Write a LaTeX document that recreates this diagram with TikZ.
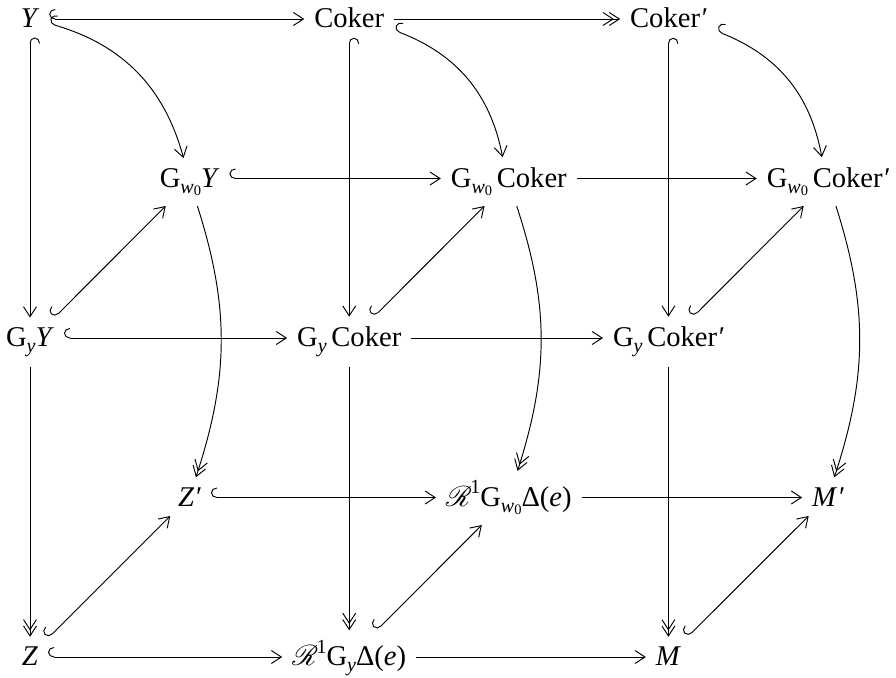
\documentclass[tikz,border=0pt]{standalone}
\usepackage{fontspec}
\setmainfont{LiberationSerif}[Extension=.ttf,UprightFont=*-Regular,ItalicFont=*-Italic,BoldFont=*-Bold,BoldItalicFont=*-BoldItalic]
\usetikzlibrary{arrows.meta,bending}
\DeclareFontFamily{U}{myrsfs}{\skewchar\font127 }
\DeclareFontShape{U}{myrsfs}{m}{n}{<-> rsfs10}{}
\newcommand\scR{{\usefont{U}{myrsfs}{m}{n}R}}
\newcommand\lowsub[2][0.22em]{\raisebox{-#1}{\fontsize{20}{20}\selectfont #2}}
\newcommand\wzero{\lowsub[0.24em]{\textit{w}\raisebox{-0.1em}{\fontsize{14.5}{14.5}\selectfont 0}}}
\newcommand\Gw{G\wzero}
\newcommand\Gy{G\lowsub[0.2em]{\textit{y}}}
\newcommand\Rone{\scR\raisebox{0.42em}{\fontsize{20}{20}\selectfont 1}}
\newcommand\Del{Δ(\textit{e})}
\newcommand\pr{\textit{′}}
\tikzset{
  obj/.style={inner sep=9.5pt, anchor=base, font=\fontsize{28.6}{34}\selectfont},
  hk/.style={arrows={Hooks[right,length=6pt,width=20pt]-Straight Barb[length=10pt,width=13pt]}},
  ar/.style={arrows={-Straight Barb[length=10pt,width=13pt]}},
  dbl/.style={arrows={-Straight Barb[length=10pt,width=13pt,sep=-5pt]Straight Barb[length=10pt,width=13pt]}},
}
\begin{document}
\begin{tikzpicture}[x=1pt,y=1pt,line width=0.95pt]
\useasboundingbox (0,0) rectangle (896,-677);
\node[obj] (Y) at (30,-27.5) {\textit{Y}};
\node[obj] (C) at (349.2,-27.5) {Coker};
\node[obj] (Cp) at (668.4,-27.5) {Coker\pr};
\node[obj] (wY) at (189.6,-187) {\Gw\textit{Y}};
\node[obj] (wC) at (508.8,-187) {\Gw\,Coker};
\node[obj] (wCp) at (828,-187) {\Gw\,Coker\pr};
\node[obj] (yY) at (30,-346.5) {\Gy\textit{Y}};
\node[obj] (yC) at (349.2,-346.5) {\Gy\,Coker};
\node[obj] (yCp) at (668.4,-346.5) {\Gy\,Coker\pr};
\node[obj] (Zp) at (189.6,-506) {\textit{Z}\pr};
\node[obj] (wR) at (508.8,-506) {\Rone\Gw\Del};
\node[obj] (Mp) at (828,-506) {\textit{M}\pr};
\node[obj] (Z) at (30,-665.5) {\textit{Z}};
\node[obj] (yR) at (349.2,-665.5) {\Rone\Gy\Del};
\node[obj] (M) at (668.4,-665.5) {\textit{M}};
% horizontal
\draw[hk] ([yshift=8.5pt]Y.base east) -- ([yshift=8.5pt]C.base west);
\draw[dbl] ([yshift=8.5pt]C.base east) -- ([yshift=8.5pt]Cp.base west);
\draw[hk] ([yshift=8.5pt]wY.base east) -- ([yshift=8.5pt]wC.base west);
\draw[ar] ([yshift=8.5pt]wC.base east) -- ([yshift=8.5pt]wCp.base west);
\draw[hk] ([yshift=8.5pt]yY.base east) -- ([yshift=8.5pt]yC.base west);
\draw[ar] ([yshift=8.5pt]yC.base east) -- ([yshift=8.5pt]yCp.base west);
\draw[hk] ([yshift=8.5pt]Zp.base east) -- ([yshift=8.5pt]wR.base west);
\draw[ar] ([yshift=8.5pt]wR.base east) -- ([yshift=8.5pt]Mp.base west);
\draw[hk] ([yshift=8.5pt]Z.base east) -- ([yshift=8.5pt]yR.base west);
\draw[ar] ([yshift=8.5pt]yR.base east) -- ([yshift=8.5pt]M.base west);
% vertical back
\draw[hk] (Y.south) -- (yY.north);
\draw[dbl] (yY.south) -- (Z.north);
\draw[hk] (C.south) -- (yC.north);
\draw[dbl] (yC.south) -- (yR.north);
\draw[hk] (Cp.south) -- (yCp.north);
\draw[dbl] (yCp.south) -- (M.north);
% curved front
\draw[hk] (Y) to[bend left=30] (wY);
\draw[hk] (C) to[bend left=30] (wC);
\draw[hk] (Cp) to[bend left=30] (wCp);
\draw[dbl] (wY) to[bend left=18] (Zp);
\draw[dbl] (wC) to[bend left=18] (wR);
\draw[dbl] (wCp) to[bend left=18] (Mp);
% diagonals
\draw[hk] (yY) -- (wY);
\draw[hk] (yC) -- (wC);
\draw[hk] (yCp) -- (wCp);
\draw[hk] (Z) -- (Zp);
\draw[hk] (yR) -- (wR);
\draw[hk] (M) -- (Mp);
\end{tikzpicture}
\end{document}
